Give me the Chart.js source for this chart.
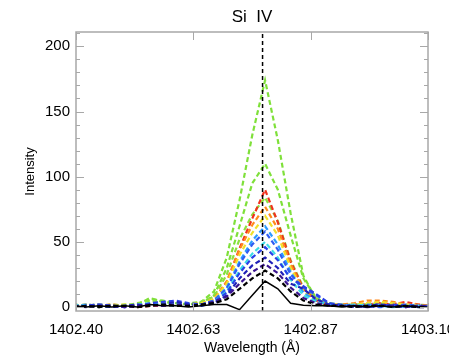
<!DOCTYPE html>
<html>
<head>
<meta charset="utf-8">
<script src="https://cdn.jsdelivr.net/npm/chart.js@4"></script>
<style>
html,body{margin:0;padding:0;background:#fff;}
#wrap{width:449px;height:359px;}
</style>
</head>
<body>
<div id="wrap"><canvas id="c" width="449" height="359"></canvas></div>
<script>
// ---- data ----
const chartTitle = "Si  IV";
const xTitle = "Wavelength (Å)";
const yTitle = "Intensity";
const wavelengths = [1402.3950,1402.4204,1402.4458,1402.4712,1402.4966,1402.5220,1402.5474,1402.5728,1402.5982,1402.6236,
  1402.6490,1402.6744,1402.6998,1402.7252,1402.7506,1402.7760,1402.8014,1402.8268,1402.8522,1402.8776,
  1402.9030,1402.9284,1402.9538,1402.9792,1403.0046,1403.0300,1403.0554,1403.0808,1403.1062];
const xTickVals = [1402.40, 1402.6333, 1402.8667, 1403.10];
const yTickVals = [0, 50, 100, 150, 200];
const yMinorVals = [10,20,30,40,60,70,80,90,110,120,130,140,160,170,180,190,210];
const restWavelength = 1402.771;
const xMin = 1402.40, xMax = 1403.10, yMin = -3, yMax = 211;

const blackSolid = [1,0,1,0,1,0,2,1,1,0,1,2,2,-2,9,20,14,3,1.5,1,1,0,1,0,1,0,1,0,0];
const blackDash  = [0,1,0,1,1,0,1,2,1,1,2,3,6,14,22,28,22,12,5,2,1,1,0,1,1,0,1,0,0];
const navy       = [1,0,1,1,0,1,2,1,2,1,2,4,8,18,27,33,26,15,7,3,1,1,1,0,1,1,0,1,0];
const darkBlue   = [0,1,1,0,1,2,1,2,4,2,1,3,9,22,32,38,30,18,14,6,2,1,0,1,2,1,0,1,1];
const blue1      = [1,1,2,1,0,1,3,4,5,3,2,4,11,26,38,46,36,22,16,10,3,1,1,0,1,2,1,0,1];
const cyan       = [2,1,0,1,1,2,3,2,3,2,1,4,12,28,41,50,38,21,9,4,2,1,2,1,1,0,1,1,0];
const blue2      = [0,1,2,1,0,2,2,1,3,2,2,5,14,33,48,58,44,25,15,9,3,2,1,1,0,1,2,1,1];
const skyBlue    = [1,2,1,0,1,1,2,2,1,2,2,5,15,35,51,62,48,27,11,5,2,1,1,2,2,1,0,1,0];
const yellow     = [2,1,2,1,2,1,2,3,2,2,3,6,18,40,57,70,55,30,12,4,2,1,2,3,4,3,2,1,1];
const orange     = [1,2,1,2,1,2,1,2,3,2,3,6,20,44,63,77,60,33,13,5,2,2,3,5,5,4,2,2,1];
const green3     = [2,1,1,2,1,3,5,3,2,3,4,8,25,52,71,84,66,36,15,6,3,2,2,1,2,1,1,0,1];
const red        = [0,1,0,1,1,0,1,1,2,1,2,6,19,45,68,90,65,35,14,5,1,1,2,2,3,2,4,2,1];
const green2     = [1,2,1,1,2,2,7,4,3,2,3,9,30,62,95,110,90,55,22,7,2,1,2,2,1,2,1,1,0];
const green1     = [2,1,2,1,1,2,6,5,3,2,4,12,38,82,132,174,128,72,24,6,2,2,1,2,3,2,1,2,1];

const seriesList = [
  {values: green1, color: '#7fe03a', dash: true},
  {values: green2, color: '#7fe03a', dash: true},
  {values: green3, color: '#8ee040', dash: true},
  {values: red, color: '#f0321e', dash: true},
  {values: orange, color: '#ff8a1c', dash: true},
  {values: yellow, color: '#f2e02a', dash: true},
  {values: skyBlue, color: '#2a9cff', dash: true},
  {values: blue2, color: '#2f5cf2', dash: true},
  {values: cyan, color: '#3cdce6', dash: true},
  {values: blue1, color: '#2a40e8', dash: true},
  {values: darkBlue, color: '#2020b8', dash: true},
  {values: navy, color: '#3a1490', dash: true},
  {values: blackDash, color: '#000000', dash: true},
  {values: blackSolid, color: '#000000', dash: false}
];

const datasets = seriesList.map((s, i) => ({
  data: wavelengths.map((w, k) => ({x: w, y: s.values[k]})),
  borderColor: s.color,
  borderWidth: s.dash ? 2.2 : 1.5,
  borderDash: s.dash ? [5, 3] : [],
  pointRadius: 0,
  tension: 0,
  fill: false,
  order: seriesList.length - i
}));
datasets.push({
  data: [{x: restWavelength, y: yMin}, {x: restWavelength, y: yMax}],
  borderColor: '#000000', borderWidth: 1.5, borderDash: [4, 3],
  pointRadius: 0, fill: false, order: 0
});

const FONT = '"Liberation Sans", Arial, Helvetica, sans-serif';
const GRAY = '#a8a8a8';

const framePlugin = {
  id: 'framePlugin',
  afterDraw(chart) {
    const ctx = chart.ctx;
    const a = chart.chartArea;
    const xs = chart.scales.x, ys = chart.scales.y;
    ctx.save();
    ctx.strokeStyle = GRAY;
    ctx.lineWidth = 1.5;
    ctx.strokeRect(a.left, a.top, a.right - a.left, a.bottom - a.top);
    ctx.lineWidth = 1;
    ctx.beginPath();
    yTickVals.forEach(v => {
      const p = Math.round(ys.getPixelForValue(v)) + 0.5;
      ctx.moveTo(a.left, p); ctx.lineTo(a.left + 8, p);
      ctx.moveTo(a.right, p); ctx.lineTo(a.right - 8, p);
    });
    yMinorVals.forEach(v => {
      const p = Math.round(ys.getPixelForValue(v)) + 0.5;
      ctx.moveTo(a.left, p); ctx.lineTo(a.left + 4, p);
      ctx.moveTo(a.right, p); ctx.lineTo(a.right - 4, p);
    });
    xTickVals.forEach(v => {
      const p = Math.round(xs.getPixelForValue(v)) + 0.5;
      ctx.moveTo(p, a.top); ctx.lineTo(p, a.top + 8);
      ctx.moveTo(p, a.bottom); ctx.lineTo(p, a.bottom - 8);
    });
    ctx.stroke();
    ctx.fillStyle = '#000';
    ctx.textAlign = 'center';
    ctx.textBaseline = 'middle';
    const cx = (a.left + a.right) / 2;
    ctx.font = '17px ' + FONT;
    ctx.fillText(chartTitle, cx, 17);
    ctx.font = '14px ' + FONT;
    ctx.fillText(xTitle, cx, 348);
    ctx.save();
    ctx.translate(30, (a.top + a.bottom) / 2);
    ctx.rotate(-Math.PI / 2);
    ctx.font = '13px ' + FONT;
    ctx.fillText(yTitle, 0, 0);
    ctx.restore();
    ctx.restore();
  }
};

new Chart(document.getElementById('c'), {
  type: 'line',
  data: {datasets},
  options: {
    responsive: false,
    animation: false,
    events: [],
    layout: {padding: {top: 32, right: 21, left: 0, bottom: 0}},
    plugins: {legend: {display: false}, title: {display: false}, tooltip: {enabled: false}},
    scales: {
      x: {
        type: 'linear', min: xMin, max: xMax,
        afterBuildTicks: s => { s.ticks = xTickVals.map(v => ({value: v})); },
        afterFit: s => { s.height = 48; s.paddingLeft = 0; s.paddingRight = 0; },
        ticks: {font: {size: 15, family: FONT}, color: '#000', padding: 10, maxRotation: 0, autoSkip: false,
          callback: v => Number(v).toFixed(2)},
        grid: {display: false, drawTicks: false},
        border: {display: false}
      },
      y: {
        type: 'linear', min: yMin, max: yMax,
        afterBuildTicks: s => { s.ticks = yTickVals.map(v => ({value: v})); },
        afterFit: s => { s.width = 76; s.paddingTop = 0; s.paddingBottom = 0; },
        ticks: {font: {size: 15, family: FONT}, color: '#000', padding: 6, autoSkip: false},
        grid: {display: false, drawTicks: false},
        border: {display: false}
      }
    }
  },
  plugins: [framePlugin]
});
</script>
</body>
</html>
